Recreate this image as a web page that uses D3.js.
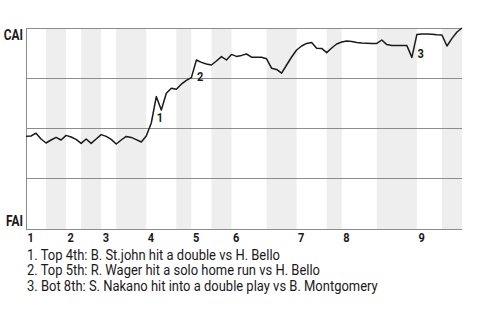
<!DOCTYPE html>
<head>
  <meta charset="utf-8">
  <script src="https://d3js.org/d3.v7.min.js"></script>
  <style>
    body { margin:0; background:white; }
    svg { background:white; }
    text { font-family: Roboto, "Liberation Sans", sans-serif; fill:#1a1a1a; }
    .bold { font-weight:bold; }
  </style>
</head>

<body>
  <script>
    // inning labels and plate appearances per half inning (top, bottom, top, ...)
    var innings = ["1", "2", "3", "4", "5", "6", "7", "8", "9"];
    var halfInningPAs = [4, 4, 3, 4, 3, 6, 6, 3, 4, 4, 7, 6, 6, 3, 7, 8, 5, 4];

    // CAI win probability after each plate appearance
    var winProb = [
      0.459, 0.46, 0.474, 0.445, 0.425, 0.44, 0.453, 0.44, 0.463, 0.455,
      0.443, 0.423, 0.445, 0.423, 0.445, 0.467, 0.458, 0.443, 0.42, 0.44,
      0.458, 0.453, 0.442, 0.43, 0.46, 0.525, 0.657, 0.59, 0.674, 0.699,
      0.694, 0.719, 0.738, 0.752, 0.84, 0.828, 0.82, 0.815, 0.835, 0.857,
      0.84, 0.868, 0.858, 0.863, 0.87, 0.854, 0.854, 0.854, 0.846, 0.799,
      0.793, 0.774, 0.815, 0.855, 0.89, 0.91, 0.923, 0.928, 0.899, 0.898,
      0.877, 0.9, 0.92, 0.93, 0.935, 0.933, 0.928, 0.925, 0.924, 0.923,
      0.923, 0.94, 0.917, 0.913, 0.912, 0.912, 0.912, 0.853, 0.968, 0.97,
      0.97, 0.969, 0.966, 0.965, 0.91, 0.948, 0.98, 1.0
    ];

    var eventIndex = [26, 34, 78];
    var eventNotes = [
      "1. Top 4th: B. St.john hit a double vs H. Bello",
      "2. Top 5th: R. Wager hit a solo home run vs H. Bello",
      "3. Bot 8th: S. Nakano hit into a double play vs B. Montgomery"
    ];

    var topTeam = "CAI";
    var bottomTeam = "FAI";
    var gridTicks = [0.25, 0.5, 0.75, 1];

    var width = 480;
    var height = 320;
    var plotLeft = 26, plotRight = 462, plotTop = 28, plotBottom = 228;

    var svg = d3.select("body").append("svg")
      .attr("width", width)
      .attr("height", height);

    var x = d3.scaleLinear()
      .domain([0, winProb.length - 1])
      .range([plotLeft, plotRight]);

    var y = d3.scaleLinear()
      .domain([0, 1])
      .range([plotBottom, plotTop]);

    // where each half inning starts
    var bounds = [0];
    halfInningPAs.forEach(function(n) {
      bounds.push(bounds[bounds.length - 1] + n);
    });

    // grey bands for bottom halves
    var halves = d3.range(halfInningPAs.length).filter(function(i) { return i % 2 == 1; });
    svg.append('g').selectAll('rect')
      .data(halves)
      .enter()
      .append('rect')
      .attr('x', function(i) { return x(bounds[i]); })
      .attr('width', function(i) { return x(bounds[i + 1]) - x(bounds[i]); })
      .attr('y', plotTop)
      .attr('height', plotBottom + 2 - plotTop)
      .attr('fill', '#eeeeee');

    // horizontal grid lines
    svg.append('g').selectAll('line')
      .data(gridTicks)
      .enter()
      .append('line')
      .attr('x1', plotLeft)
      .attr('x2', plotRight)
      .attr('y1', function(d) { return Math.round(y(d)) + 0.5; })
      .attr('y2', function(d) { return Math.round(y(d)) + 0.5; })
      .attr('stroke', '#8c8c8c')
      .attr('stroke-width', 1);

    // bottom axis line and left edge
    svg.append('line')
      .attr('x1', plotLeft).attr('x2', plotRight)
      .attr('y1', plotBottom + 1.5).attr('y2', plotBottom + 1.5)
      .attr('stroke', '#8c8c8c');
    svg.append('line')
      .attr('x1', plotLeft + 0.5).attr('x2', plotLeft + 0.5)
      .attr('y1', plotTop).attr('y2', plotBottom + 2)
      .attr('stroke', '#8c8c8c');

    // win probability line
    var line = d3.line()
      .x(function(d, i) { return x(i); })
      .y(function(d) { return y(d); });

    svg.append('path')
      .attr('d', line(winProb))
      .attr('fill', 'none')
      .attr('stroke', '#1a1a1a')
      .attr('stroke-width', 1.5)
      .attr('stroke-linejoin', 'round');

    function condensedText(g, tx, ty, str, cls, size, squeeze, anchor) {
      return g.append('text')
        .attr('class', cls)
        .attr('transform', 'translate(' + tx + ',' + ty + ') scale(' + squeeze + ',1)')
        .attr('text-anchor', anchor || 'start')
        .style('font-size', size + 'px')
        .text(str);
    }

    // event markers on the line
    eventIndex.forEach(function(idx, k) {
      var mid = (y(winProb[idx - 1]) + y(winProb[idx])) / 2;
      condensedText(svg, x(idx) + 0.5, mid + 12, String(k + 1), 'bold', 13, 0.85);
    });

    // team labels
    condensedText(svg, 23, 39.5, topTeam, 'bold', 14, 0.85, 'end');
    condensedText(svg, 23, 226, bottomTeam, 'bold', 14, 0.85, 'end');

    // inning numbers under the start of each top half
    innings.forEach(function(lab, i) {
      condensedText(svg, x(bounds[i * 2]) + 1.5, 242, lab, 'bold', 13, 0.85);
    });

    // notes
    eventNotes.forEach(function(note, i) {
      condensedText(svg, 27, 259.5 + i * 15.7, note, '', 15, 0.865);
    });
  </script>
</body>
